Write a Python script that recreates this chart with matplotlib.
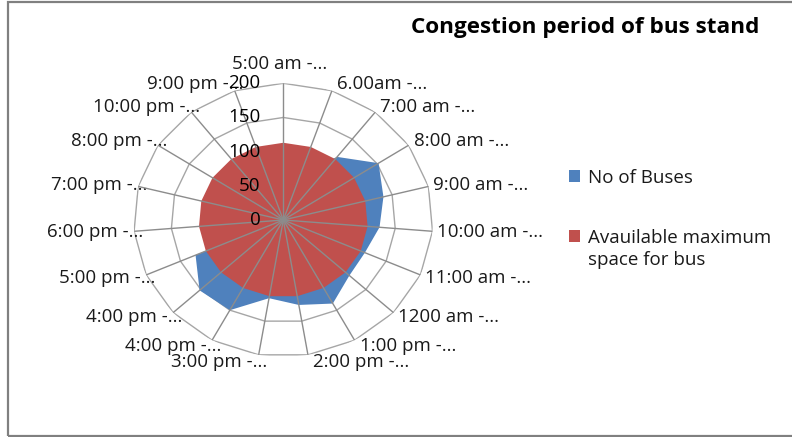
import numpy as np
import matplotlib
matplotlib.use("Agg")
import matplotlib.pyplot as plt
from matplotlib.transforms import offset_copy
from matplotlib.patches import Rectangle

plt.rcParams['font.family'] = ['Open Sans', 'DejaVu Sans']

# ---------------- data ----------------
categories = ["5:00 am -...", "6.00am -...", "7:00 am -...", "8:00 am -...",
              "9:00 am -...", "10:00 am -...", "11:00 am -...", "1200 am -...",
              "1:00 pm -...", "2:00 pm -...", "3:00 pm -...", "4:00 pm -...",
              "4:00 pm -...", "5:00 pm -...", "6:00 pm -...", "7:00 pm -...",
              "8:00 pm -...", "10:00 pm -...", "9:00 pm -..."]
no_of_buses = [40, 70, 117, 152, 138, 129, 119, 120, 139, 126, 116, 150,
               152, 128, 5, 20, 10, 5, 5]
available_space = [113] * 19
r_ticks = [0, 50, 100, 150, 200]
series_names = ["No of Buses", "Avauilable maximum\nspace for bus"]
title = "Congestion period of bus stand"

blue = "#4F81BD"
red = "#C0504D"
grid_col = "#A6A6A6"
spoke_col = "#8C8C8C"

W, H = 792, 437
fig = plt.figure(figsize=(W / 100, H / 100), dpi=100)

# chart-area border (right edge runs off the image)
fig.patches.append(Rectangle((8 / W, 1 / H), 1.2, 1 - 3 / H, transform=fig.transFigure,
                             fill=False, edgecolor="#808080", linewidth=1.6))

cx, cy = 283.3, 220.0
rx, ry = 149.7, 136.7
ax = fig.add_axes([(cx - rx) / W, (H - cy - ry) / H, 2 * rx / W, 2 * ry / H],
                  projection="polar")
ax.set_aspect("auto")
ax.set_theta_zero_location("N")
ax.set_theta_direction(-1)
ax.set_ylim(0, r_ticks[-1])
ax.set_xticks([])
ax.set_yticks([])
ax.grid(False)
ax.spines["polar"].set_visible(False)
ax.patch.set_alpha(0)

n = len(categories)
angles = np.linspace(0, 2 * np.pi, n, endpoint=False)
ang_closed = np.append(angles, angles[0])

# polygon gridlines (below the fills)
for r in r_ticks[1:]:
    ax.plot(ang_closed, [r] * (n + 1), color=grid_col, lw=1.0, zorder=1)

# series
b = np.append(no_of_buses, no_of_buses[0])
a = np.append(available_space, available_space[0])
hb = ax.fill(ang_closed, b, color=blue, lw=0, zorder=2, label=series_names[0])[0]
hr = ax.fill(ang_closed, a, color=red, lw=0, zorder=3, label=series_names[1])[0]

# spokes (over the fills)
for t in angles:
    ax.plot([t, t], [0, r_ticks[-1]], color=spoke_col, lw=1.0, zorder=4)

# value axis labels along the top spoke
tr = offset_copy(ax.transData, fig=fig, x=-23, y=0, units="dots")
for r in r_ticks:
    ax.text(0, r, str(r), transform=tr, ha="right", va="center",
            fontsize=13.5, color="#000000", zorder=5)

# category labels
for i, (t, lab) in enumerate(zip(angles, categories)):
    s, c = np.sin(t), np.cos(t)
    if i == 0:
        ha, dx, dy = "center", -4, 19
    elif s > 0:
        ha, dx, dy = "left", 5, 7 * c
    else:
        ha, dx, dy = "right", 9, 7 * c
    trl = offset_copy(ax.transData, fig=fig, x=dx, y=dy, units="dots")
    ax.text(t, r_ticks[-1], lab, transform=trl, ha=ha, va="center",
            fontsize=13.5, color="#1a1a1a")

# title
fig.text(411 / W, 1 - 28 / H, title, ha="left", va="center",
         fontsize=16.2, fontweight="bold", color="#000000")

# legend
leg = fig.legend([hb, hr], series_names, loc="upper left",
                 bbox_to_anchor=(569 / W, 1 - 169 / H), frameon=False,
                 borderaxespad=0, borderpad=0, fontsize=13.5,
                 handlelength=0.6, handleheight=0.6, handletextpad=0.4,
                 labelspacing=2.25)
for t in leg.get_texts():
    t.set_color("#1a1a1a")
    t.set_linespacing(1.25)
hnd = leg.legend_handles[1]
hnd.set_y(hnd.get_y() + 9.5)

fig.savefig("out.png", dpi=100)
